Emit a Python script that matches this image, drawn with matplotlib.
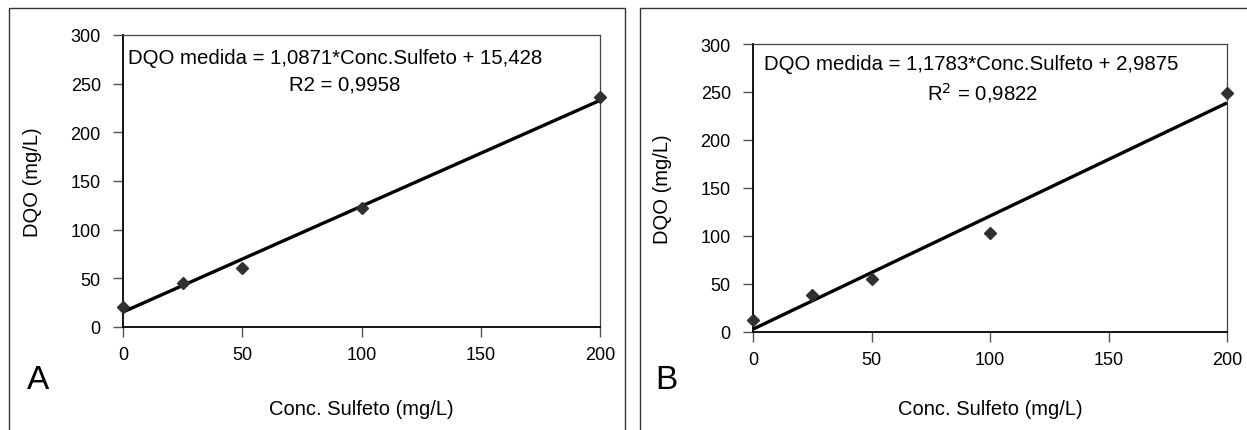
import numpy as np
import matplotlib.pyplot as plt
from matplotlib.patches import Rectangle

plt.rcParams['font.family'] = ['Liberation Sans', 'DejaVu Sans']

# data
conc = [0, 25, 50, 100, 200]
dqo_a = [21, 45, 61, 122, 236]
dqo_b = [12, 39, 55, 103, 249]

# fitted lines as printed on the chart
slope_a, icpt_a, r2_a = 1.0871, 15.428, "0,9958"
slope_b, icpt_b, r2_b = 1.1783, 2.9875, "0,9822"

x_ticks = [0, 50, 100, 150, 200]
y_ticks = [0, 50, 100, 150, 200, 250, 300]

W, H = 1247, 431
fig = plt.figure(figsize=(W / 100, H / 100), dpi=100)

# outer frames around each panel
fig.patches.append(Rectangle((9 / W, -0.05), 616 / W, 1.05 - 9 / H,
                             transform=fig.transFigure, fill=False,
                             edgecolor='#333333', lw=1.0))
fig.patches.append(Rectangle((640 / W, -0.05), 0.6, 1.05 - 9 / H,
                             transform=fig.transFigure, fill=False,
                             edgecolor='#333333', lw=1.0))


def panel(rect, y, slope, icpt, eq, r2, letter, letter_xy, ylab_x, eq_xy, r2_xy):
    ax = fig.add_axes(rect)
    xs = np.array([0, 200])
    ax.plot(xs, slope * xs + icpt, color='black', lw=2.4, zorder=2,
            solid_capstyle='butt')
    ax.plot(conc, y, linestyle='none', marker='D', ms=6,
            color='#303030', zorder=3, clip_on=False)
    ax.set_xlim(0, 200)
    ax.set_ylim(0, 300)
    ax.set_xticks(x_ticks)
    ax.set_yticks(y_ticks)
    ax.tick_params(axis='both', direction='out', length=7, width=1,
                   color='#555555', labelsize=13)
    ax.tick_params(axis='y', pad=9)
    ax.tick_params(axis='x', pad=7)
    for s in ('left', 'bottom'):
        ax.spines[s].set_color('black')
        ax.spines[s].set_linewidth(1.3)
    for s in ('top', 'right'):
        ax.spines[s].set_color('#444444')
        ax.spines[s].set_linewidth(0.9)
    fig.text(*eq_xy, eq, ha='center', va='center', fontsize=14.7)
    fig.text(*r2_xy, r2, ha='center', va='center', fontsize=14.7)
    fig.text(*letter_xy, letter, ha='left', va='center', fontsize=24)
    fig.text(ylab_x, (rect[1] + rect[3] / 2), 'DQO (mg/L)', rotation=90,
             ha='center', va='center', fontsize=14.5)
    fig.text(rect[0] + rect[2] / 2, 1 - 410 / H, 'Conc. Sulfeto (mg/L)',
             ha='center', va='center', fontsize=14.5)
    return ax


panel([123 / W, 1 - 328 / H, 477 / W, 292 / H], dqo_a, slope_a, icpt_a,
      'DQO medida = 1,0871*Conc.Sulfeto + 15,428', 'R2 = ' + r2_a,
      'A', (27 / W, 1 - 381 / H), 33 / W,
      (335 / W, 1 - 58 / H), (345 / W, 1 - 85 / H))

panel([753 / W, 1 - 333 / H, 474 / W, 288 / H], dqo_b, slope_b, icpt_b,
      'DQO medida = 1,1783*Conc.Sulfeto + 2,9875', r'R$^2$ = ' + r2_b,
      'B', (655 / W, 1 - 381 / H), 663 / W,
      (971 / W, 1 - 65 / H), (982 / W, 1 - 93 / H))

fig.savefig('out.png', dpi=100)
